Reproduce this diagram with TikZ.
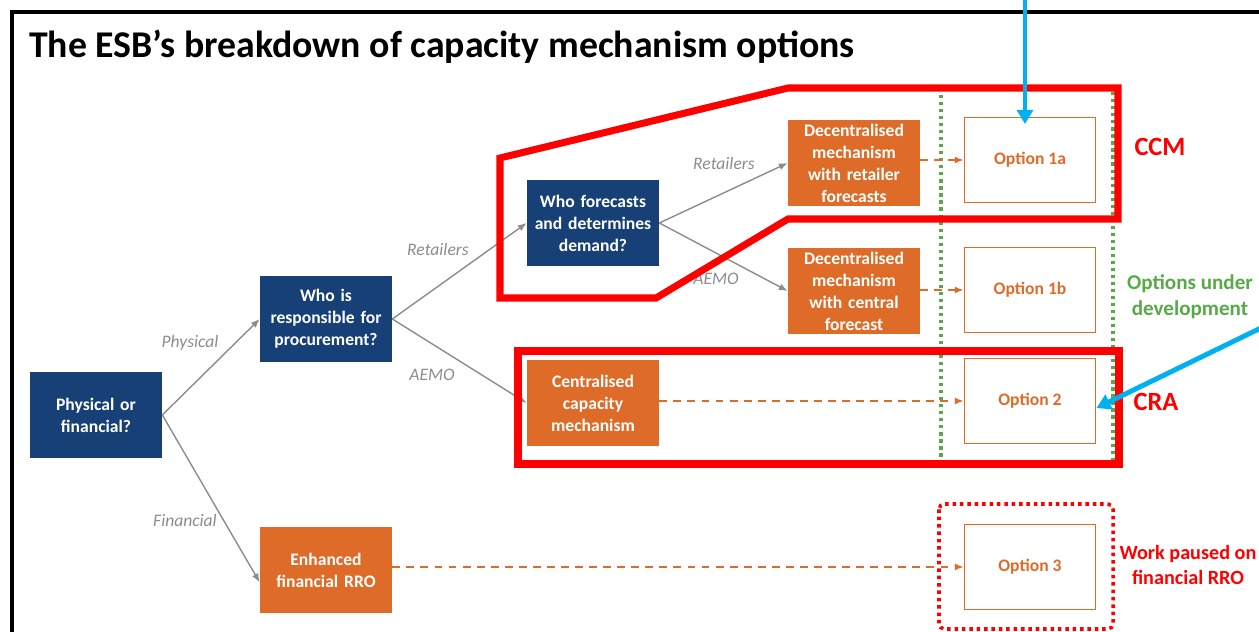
\documentclass[tikz,border=0pt]{standalone}
\usepackage{fontspec}
\setmainfont{Carlito}
\usetikzlibrary{arrows.meta}
\hyphenpenalty=10000
\definecolor{N}{RGB}{23, 64, 118}
\definecolor{O}{RGB}{222, 108, 40}
\definecolor{R}{RGB}{255, 0, 0}
\definecolor{G}{RGB}{88, 170, 72}
\definecolor{C}{RGB}{0, 176, 240}
\definecolor{Gr}{RGB}{140, 140, 140}

\tikzset{
  pregunta/.style={fill=N, text=white, font=\bfseries\fontsize{10}{12.5}\selectfont,
    minimum width=2.64cm, minimum height=1.72cm, inner sep=1pt, text width=2.25cm, align=center},
  mecanismo/.style={pregunta, fill=O},
  opcion/.style={draw=O, line width=1.1pt, fill=white, text=O, font=\bfseries\fontsize{10}{12.5}\selectfont,
    minimum width=2.62cm, minimum height=1.7cm, inner sep=1pt},
  rama/.style={draw=Gr, line width=0.8pt, -{Latex[length=5pt,width=4pt]}},
  etiqueta/.style={text=Gr, font=\itshape\fontsize{10}{12}\selectfont},
  flujo/.style={draw=O, line width=0.8pt, dash pattern=on 4.5pt off 3.5pt, -{Latex[length=5pt,width=4pt]}},
  nota/.style={font=\bfseries\fontsize{12}{15}\selectfont, align=center},
}

\begin{document}
\begin{tikzpicture}[x=0.02cm, y=-0.02cm]
  \useasboundingbox (0,0) rectangle (1259,632);
  \clip (0,0) rectangle (1259,632);

  %Marco negro (cortado a la derecha y abajo)
  \draw[line width=2.3pt] (12,700) -- (12,12) -- (1300,12);
  \node[anchor=west, font=\bfseries\fontsize{21.5}{25}\selectfont] (titulo) at (23,47)
    {The ESB’s breakdown of capacity mechanism options};

  %Zona de opciones en desarrollo
  \draw[G, line width=1.8pt, dash pattern=on 1.8pt off 2.2pt] (941,88) rectangle (1113,466);

  %Preguntas
  \node[pregunta] (fisico) at (96,415) {Physical or financial?};
  \node[pregunta] (compra) at (326,319) {Who is responsible for procurement?};
  \node[pregunta, text width=2.5cm] (demanda) at (593,223) {Who forecasts\\and determines\\demand?};

  %Mecanismos
  \node[mecanismo] (rro) at (326,570) {Enhanced financial RRO};
  \node[mecanismo] (central) at (593,403) {Centralised capacity mechanism};
  \node[mecanismo] (decmin) at (854,163) {Decentralised mechanism with retailer forecasts};
  \node[mecanismo] (deccen) at (854,291) {Decentralised mechanism with central forecast};

  %Opciones
  \node[opcion] (op1a) at (1030,160) {Option 1a};
  \node[opcion] (op1b) at (1030,290) {Option 1b};
  \node[opcion] (op2) at (1030,401) {Option 2};
  \node[opcion] (op3) at (1030,567) {Option 3};

  %Ramas grises
  \draw[rama] (fisico.east) -- (compra.west);
  \draw[rama] (fisico.east) -- ([yshift=-7pt]rro.west);
  \draw[rama] (compra.east) -- (demanda.west);
  \draw[rama] (compra.east) -- (central.west);
  \draw[rama] (demanda.east) -- (decmin.west);
  \draw[rama] (demanda.east) -- (deccen.west);

  \node[etiqueta] (lfis) at (190,343) {Physical};
  \node[etiqueta] (lfin) at (185,520) {Financial};
  \node[etiqueta] (lret) at (438,249) {Retailers};
  \node[etiqueta] (laem) at (432,375) {AEMO};
  \node[etiqueta] (lret2) at (724,163) {Retailers};
  \node[etiqueta] (laem2) at (716,279) {AEMO};

  %Flechas naranjas a las opciones
  \draw[flujo] (decmin.east |- op1a.west) -- (op1a.west);
  \draw[flujo] (deccen.east |- op1b.west) -- (op1b.west);
  \draw[flujo] (central.east |- op2.west) -- (op2.west);
  \draw[flujo] (rro.east |- op3.west) -- (op3.west);

  %Contornos rojos
  \draw[R, line width=4pt, line join=miter] (500,158) -- (788,88) -- (1118,88) -- (1118,219)
    -- (788,219) -- (656,298) -- (500,298) -- cycle;
  \draw[R, line width=4pt] (518,351) rectangle (1119,464);
  \draw[R, line width=2pt, dash pattern=on 2pt off 2.2pt, rounded corners=3pt] (939,504) rectangle (1113,629);

  \node[nota, text=R, font=\bfseries\fontsize{15}{18}\selectfont] (ccm) at (1160,147) {CCM};
  \node[nota, text=R, font=\bfseries\fontsize{15}{18}\selectfont] (cra) at (1156,402) {CRA};
  \node[nota, text=G] (desarrollo) at (1190,297) {Options under\\development};
  \node[nota, text=R, font=\bfseries\fontsize{11.5}{14.5}\selectfont] (pausa) at (1188,565) {Work paused on\\financial RRO};

  %Flechas azules
  \coordinate (arribaA) at (1025,-5);
  \coordinate (puntaA) at (1025,124);
  \coordinate (arribaB) at (1265,326);
  \draw[C, line width=2.8pt, -{Triangle[length=8pt,width=9pt]}] (arribaA) -- (puntaA);
  \draw[C, line width=2.8pt, -{Triangle[length=8pt,width=9pt]}] (arribaB) -- ([yshift=-4pt]op2.east);
\end{tikzpicture}
\end{document}
